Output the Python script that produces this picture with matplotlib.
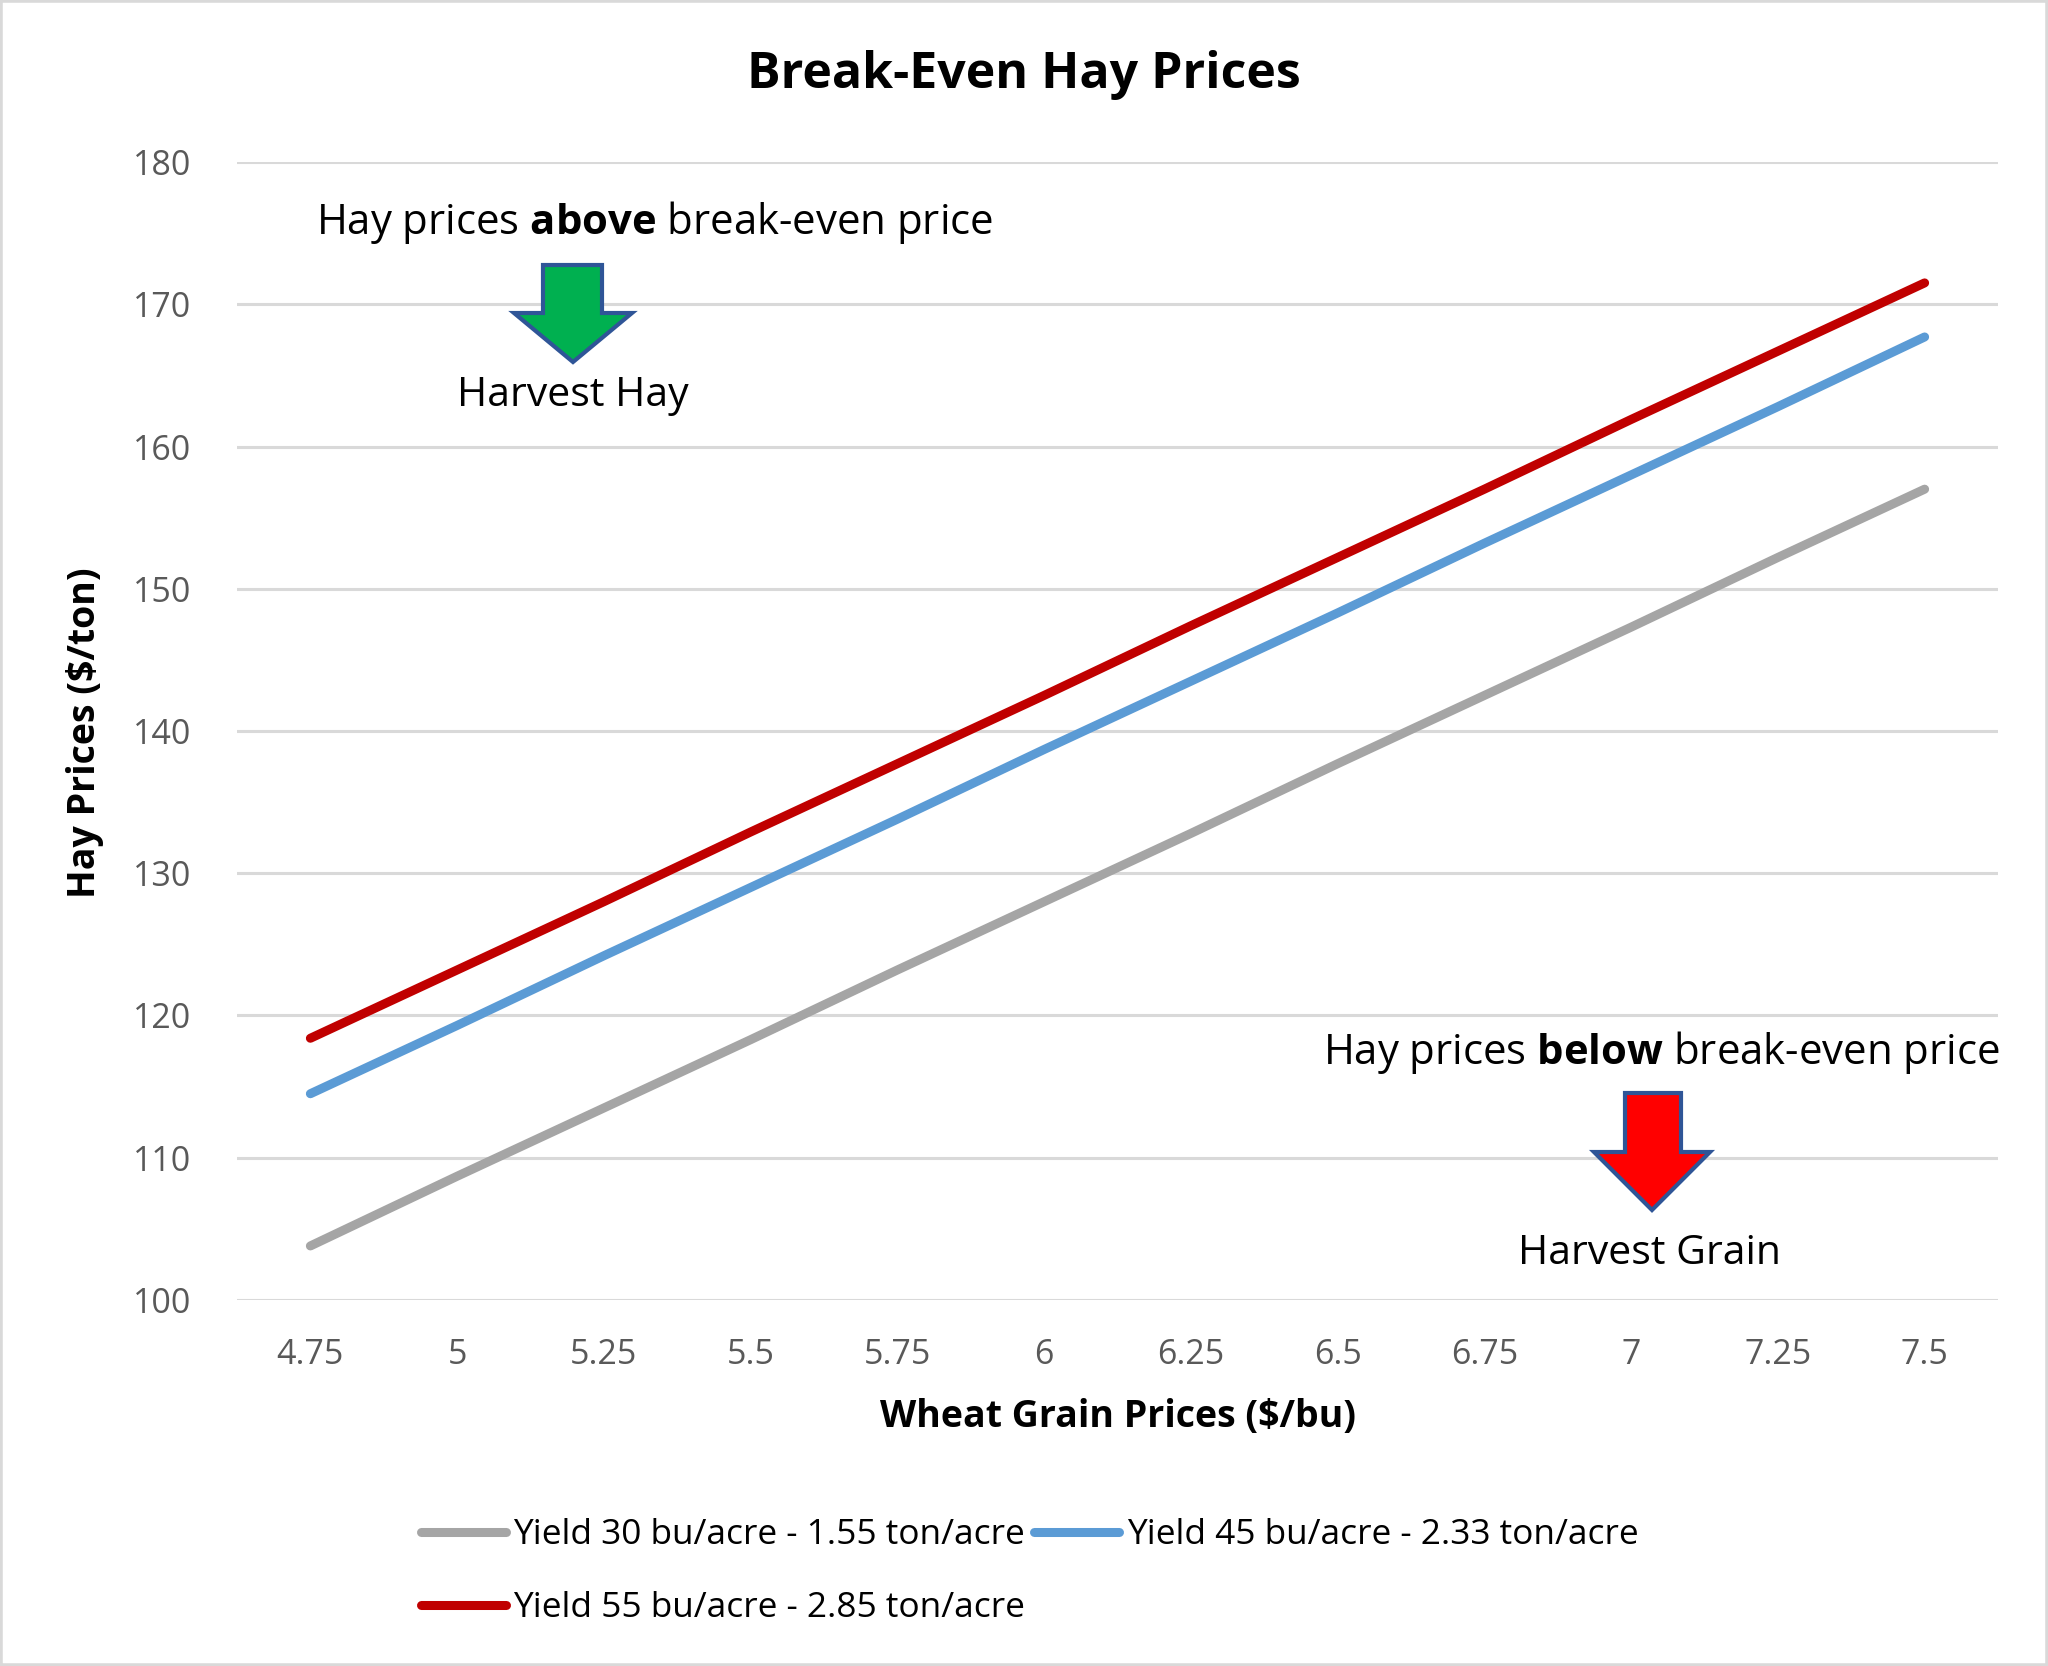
import matplotlib
matplotlib.use("Agg")
import matplotlib.pyplot as plt
from matplotlib.patches import Polygon, Rectangle

# ---- data ----
wheat_prices = ["4.75", "5", "5.25", "5.5", "5.75", "6", "6.25", "6.5", "6.75", "7", "7.25", "7.5"]
yield_30 = [103.8, 108.7, 113.5, 118.3, 123.2, 128.0, 132.8, 137.7, 142.5, 147.3, 152.2, 157.0]
yield_45 = [114.5, 119.3, 124.2, 129.0, 133.8, 138.7, 143.5, 148.3, 153.2, 158.0, 162.8, 167.7]
yield_55 = [118.4, 123.2, 128.0, 132.9, 137.7, 142.5, 147.4, 152.2, 157.0, 161.9, 166.7, 171.5]
series_labels = ["Yield 30 bu/acre - 1.55 ton/acre",
                 "Yield 45 bu/acre - 2.33 ton/acre",
                 "Yield 55 bu/acre - 2.85 ton/acre"]
y_ticks = [100, 110, 120, 130, 140, 150, 160, 170, 180]

FONT = "Open Sans"
plt.rcParams["font.family"] = [FONT, "DejaVu Sans"]
plt.rcParams["mathtext.fontset"] = "custom"
plt.rcParams["mathtext.rm"] = FONT
plt.rcParams["mathtext.bf"] = FONT + ":bold"

W, H = 2048, 1666
DPI = 100
fig = plt.figure(figsize=(W / DPI, H / DPI), dpi=DPI)

def fx(px):
    return px / W

def fy(py):
    return 1 - py / H

# axes placement
left, right = 237, 1998
top, bottom = 162, 1300
ax = fig.add_axes([fx(left), fy(bottom), fx(right - left), (bottom - top) / H])

colors = ["#A5A5A5", "#5B9BD5", "#C00000"]
x = list(range(len(wheat_prices)))
lines = []
for vals, c, lab in zip([yield_30, yield_45, yield_55], colors, series_labels):
    ln, = ax.plot(x, vals, color=c, lw=6.5, solid_capstyle="round", label=lab, zorder=3)
    lines.append(ln)

ax.set_xlim(-0.5, len(wheat_prices) - 0.5)
ax.set_ylim(100, 180)
ax.set_yticks(y_ticks)
ax.set_xticks(x)
ax.set_xticklabels(wheat_prices)
ax.grid(axis="y", color="#D9D9D9", lw=2.2)
ax.set_axisbelow(True)
for s in ax.spines.values():
    s.set_visible(False)
ax.tick_params(axis="both", length=0, labelsize=24.5, labelcolor="#595959")
ax.tick_params(axis="x", pad=27.5)
ax.tick_params(axis="y", pad=33)

# axis titles
fig.text(fx(1118), fy(1417), "Wheat Grain Prices ($/bu)", ha="center", va="center",
         fontsize=27, fontweight="bold")
fig.text(fx(85), fy(733), "Hay Prices ($/ton)", ha="center", va="center",
         fontsize=27, fontweight="bold", rotation=90)

# title
fig.text(fx(1024), fy(75), "Break-Even Hay Prices", ha="center", va="center",
         fontsize=36, fontweight="bold")

# annotations
fig.text(fx(655), fy(222), r"Hay prices $\mathbf{above}$ break-even price", ha="center",
         va="center", fontsize=30.2)
fig.text(fx(573), fy(396), "Harvest Hay", ha="center", va="center", fontsize=29.5)
fig.text(fx(1661), fy(1053), r"Hay prices $\mathbf{below}$ break-even price", ha="center",
         va="center", fontsize=30.2)
fig.text(fx(1650), fy(1254), "Harvest Grain", ha="center", va="center", fontsize=29.5)

def down_arrow(sx0, sx1, ytop, hx0, hx1, yhead, tipx, tipy, face):
    pts = [(sx0, ytop), (sx1, ytop), (sx1, yhead), (hx1, yhead), (tipx, tipy),
           (hx0, yhead), (sx0, yhead)]
    poly = Polygon([(fx(a), fy(b)) for a, b in pts], closed=True, transform=fig.transFigure,
                   facecolor=face, edgecolor="#2F5597", lw=3, joinstyle="miter", zorder=5)
    fig.patches.append(poly)

down_arrow(543, 602, 265, 514, 632, 313, 573, 362, "#00B050")
down_arrow(1625, 1681, 1093, 1594, 1710, 1152, 1652, 1210, "#FF0000")

# legend (row-major order like the original)
order = [0, 2, 1]
leg = fig.legend([lines[i] for i in order], [series_labels[i] for i in order],
                 loc="upper left", bbox_to_anchor=(fx(421), fy(1518)), ncol=2,
                 frameon=False, fontsize=25.4, handlelength=2.42, handletextpad=0.2,
                 columnspacing=0.25, labelspacing=1.11, borderpad=0, borderaxespad=0)

# figure border
fig.patches.append(Rectangle((0, 0), 1, 1, transform=fig.transFigure, fill=False,
                             edgecolor="#D9D9D9", lw=4, zorder=10))

fig.savefig("out.png", dpi=DPI)
